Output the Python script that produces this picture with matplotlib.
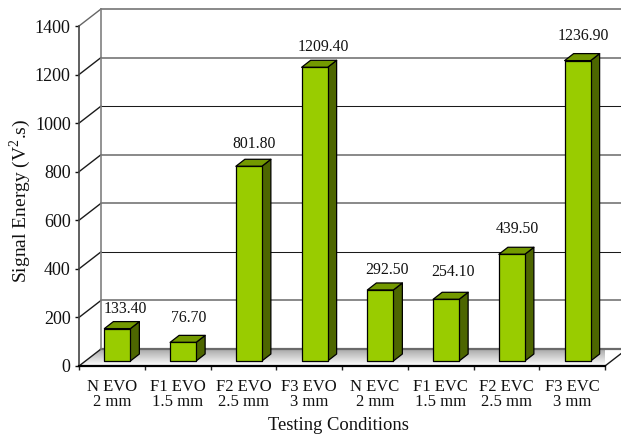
import numpy as np
import matplotlib
matplotlib.use("Agg")
import matplotlib.pyplot as plt
from matplotlib.patches import Polygon

plt.rcParams["font.family"] = ["Liberation Serif", "DejaVu Serif"]
plt.rcParams["mathtext.fontset"] = "custom"
plt.rcParams["mathtext.rm"] = "Liberation Serif"

conditions = ["N EVO\n2 mm", "F1 EVO\n1.5 mm", "F2 EVO\n2.5 mm", "F3 EVO\n3 mm",
              "N EVC\n2 mm", "F1 EVC\n1.5 mm", "F2 EVC\n2.5 mm", "F3 EVC\n3 mm"]
energy = [133.40, 76.70, 801.80, 1209.40, 292.50, 254.10, 439.50, 1236.90]
y_ticks = [0, 200, 400, 600, 800, 1000, 1200, 1400]

W, H = 621, 436
LEFT, RIGHT, BOTTOM, TOP = 79, 605, 366, 26

# hand-placed value labels, offsets from the bar top in pixels
label_dx = [8, 6, 5.5, 9, 7, 7, 6, 6]
label_dy = [5, 9, 7, 5, 5, 12, 10, 10]

fig = plt.figure(figsize=(W / 100, H / 100), dpi=100)
ax = fig.add_axes([LEFT / W, 1 - BOTTOM / H, (RIGHT - LEFT) / W, (BOTTOM - TOP) / H])

# pixel sizes expressed in data units
px_x = len(conditions) / (RIGHT - LEFT)
px_y = 1400 / (BOTTOM - TOP)
wall_dx, wall_dy = 22 * px_x, 17 * px_y
bar_dx, bar_dy = 5.5 * px_x, 5 * px_y
depth_x, depth_y = 9 * px_x, 7 * px_y
bar_w = 26 * px_x

# floor with a soft grey fade towards the front
floor = Polygon([(0, 0), (8, 0), (8 + wall_dx, wall_dy), (wall_dx, wall_dy)],
                closed=True, fc="none", ec="none", transform=ax.transData)
ax.add_patch(floor)
fade = np.linspace(1.0, 0.66, 64).reshape(-1, 1)
im = ax.imshow(fade, cmap="gray", vmin=0, vmax=1, origin="lower", aspect="auto",
               extent=(0, 8 + wall_dx, 0, wall_dy), zorder=1)
im.set_clip_path(floor)

# back wall and the connectors on the side wall
for v in y_ticks:
    dark = v in (400, 1000)
    color = "#1a1a1a" if dark else "#6a6a6a"
    lw = 1.6 if v == 0 else (0.75 if dark else 1.1)
    ax.plot([wall_dx, 8 + wall_dx], [v + wall_dy, v + wall_dy], color=color, lw=lw,
            clip_on=False, zorder=2)
    ax.plot([0, wall_dx], [v, v + wall_dy], color="#666666" if v == 1400 else "#1a1a1a",
            lw=1.0, clip_on=False, zorder=2)
ax.plot([wall_dx, wall_dx], [wall_dy, 1400 + wall_dy], color="#808080", lw=1.2,
        clip_on=False, zorder=2)
ax.plot([8, 8 + wall_dx], [0, wall_dy], color="#1a1a1a", lw=1.0, clip_on=False, zorder=2)

# 3D-looking bars: side, top, then front face
for i, val in enumerate(energy):
    x0 = i + 0.5 - bar_w / 2 + bar_dx
    x1 = x0 + bar_w
    y0 = bar_dy
    y1 = val + bar_dy
    side = [(x1, y0), (x1 + depth_x, y0 + depth_y), (x1 + depth_x, y1 + depth_y), (x1, y1)]
    top = [(x0, y1), (x1, y1), (x1 + depth_x, y1 + depth_y), (x0 + depth_x, y1 + depth_y)]
    front = [(x0, y0), (x1, y0), (x1, y1), (x0, y1)]
    for pts, fc in ((side, "#4d6600"), (top, "#739900"), (front, "#99cc00")):
        ax.add_patch(Polygon(pts, closed=True, fc=fc, ec="black", lw=0.9, joinstyle="round",
                             zorder=3, clip_on=False))
    ax.annotate(f"{val:.2f}", (x0 + bar_w / 2 + label_dx[i] * px_x, y1 + depth_y),
                xytext=(0, label_dy[i]), textcoords="offset pixels", ha="center",
                va="bottom", fontsize=11.3, color="#111111", zorder=4)

ax.set_xlim(0, 8)
ax.set_ylim(0, 1400)
ax.patch.set_alpha(0)
for name in ("top", "right"):
    ax.spines[name].set_visible(False)
ax.spines["left"].set_color("#444444")
ax.spines["left"].set_linewidth(1.2)
ax.spines["bottom"].set_color("black")
ax.spines["bottom"].set_linewidth(1.6)
ax.spines["bottom"].set_zorder(5)

ax.set_yticks(y_ticks)
ax.tick_params(axis="y", length=3, width=1, pad=3, labelsize=13, colors="#111111")
ax.set_xticks(range(9))
ax.set_xticklabels([])
ax.set_xticks(np.arange(8) + 0.5, labels=conditions, minor=True)
ax.tick_params(axis="x", which="major", length=3, width=1, color="#222222")
ax.tick_params(axis="x", which="minor", length=0, pad=9.5, labelsize=12, colors="#111111")
for lab in ax.get_xticklabels(minor=True):
    lab.set_linespacing(0.9)

fig.text(338 / W, 1 - 425 / H, "Testing Conditions", ha="center", va="center",
         fontsize=13.4, color="#111111")
fig.text(20 / W, 1 - 201 / H, r"Signal Energy (V$^{2}$.s)", rotation=90, ha="center",
         va="center", fontsize=14, color="#111111")

fig.savefig("out.png", dpi=100)
